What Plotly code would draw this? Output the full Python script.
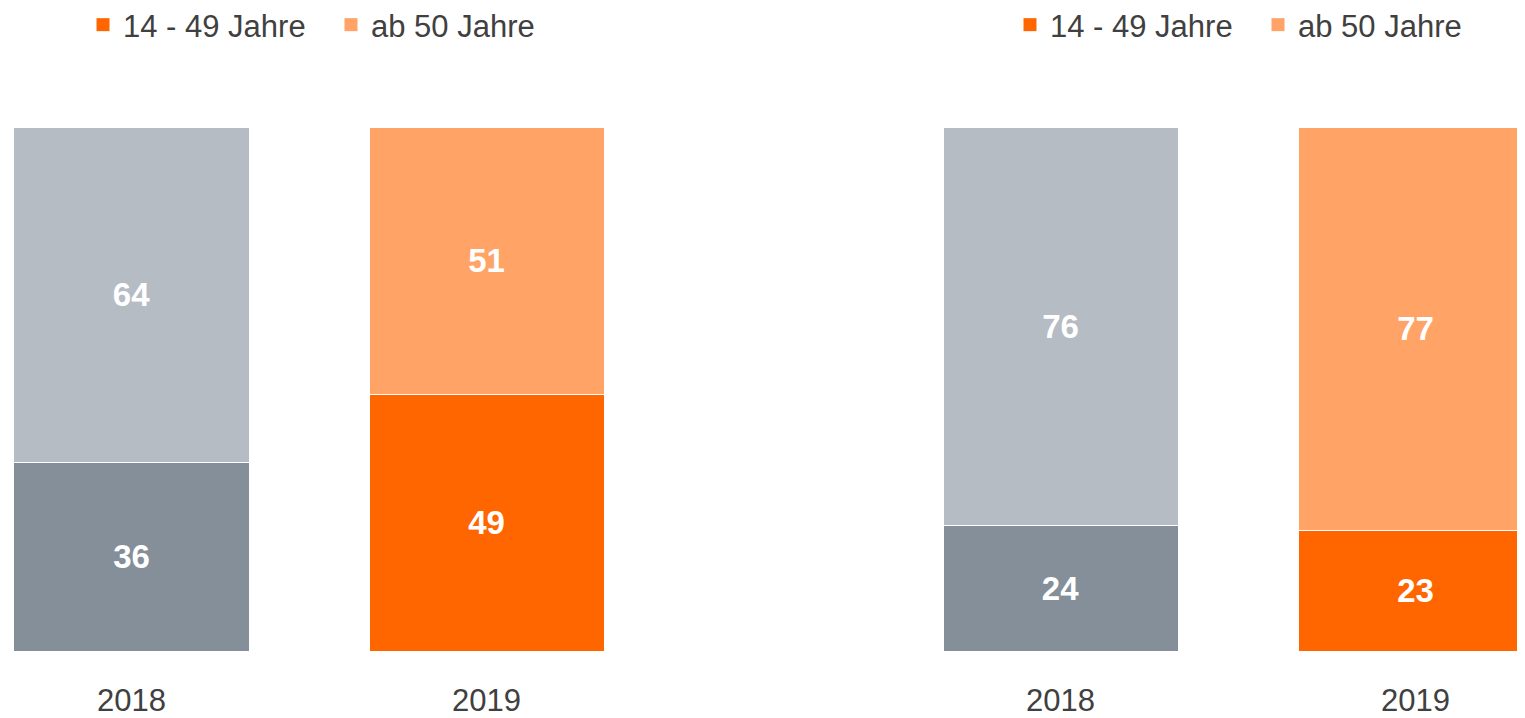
import plotly.graph_objects as go

years = ["2018", "2019"]
left_young = [36, 49]
left_old = [64, 51]
right_young = [24, 23]
right_old = [76, 77]
legend_labels = ["14 - 49 Jahre", "ab 50 Jahre"]

young_colors = ["#848f99", "#ff6600"]
old_colors = ["#b5bcc4", "#ffa366"]
legend_colors = ["#ff6600", "#ffa366"]

FONT = "Liberation Sans, Arial, sans-serif"
TXT = "#404040"
# page body has an 8px margin; figure is sized to fit the viewport
W = 1517
H = 710
T = 119
B = 67
PH = H - T - B
bar_w = 0.662

fig = go.Figure()

def add_panel(young, old, xa, ya):
    for vals, cols in ((young, young_colors), (old, old_colors)):
        fig.add_trace(go.Bar(
            x=years, y=vals, xaxis=xa, yaxis=ya, width=bar_w,
            marker=dict(color=cols, line=dict(color="white", width=1)),
            text=[str(v) for v in vals], textposition="inside",
            insidetextanchor="middle", textangle=0, constraintext="none",
            textfont=dict(family=FONT, size=33, color="white", weight="bold"),
            showlegend=False, hoverinfo="skip",
        ))

add_panel(left_young, left_old, "x", "y")
add_panel(right_young, right_old, "x2", "y2")

for lg in ("legend", "legend2"):
    for name, col in zip(legend_labels, legend_colors):
        fig.add_trace(go.Scatter(
            x=[None], y=[None], mode="markers", name=name, legend=lg,
            marker=dict(symbol="square", size=13, color=col),
            xaxis="x" if lg == "legend" else "x2",
            yaxis="y" if lg == "legend" else "y2",
        ))

pitch = 355.0
c1 = 123.5
c2 = 1052.5
half = W / 2
r1 = -c1 / pitch
r2 = -(c2 - half) / pitch
span = half / pitch

axis_common = dict(
    type="category", showgrid=False, zeroline=False, showline=False,
    ticks="outside", ticklen=22, tickcolor="rgba(0,0,0,0)",
    tickfont=dict(family=FONT, size=31, color=TXT), fixedrange=True,
)
yaxis_common = dict(range=[0, 100], visible=False, fixedrange=True)

leg_top = -10
legend_common = dict(
    orientation="h", xanchor="left", yanchor="top", yref="paper",
    y=1 + (T - leg_top) / PH,
    font=dict(family=FONT, size=31, color=TXT), bgcolor="rgba(0,0,0,0)",
    entrywidth=203, entrywidthmode="pixels", itemclick=False,
    itemdoubleclick=False, traceorder="normal",
)

fig.update_layout(
    width=W, height=H,
    margin=dict(l=0, r=0, t=T, b=B, autoexpand=False),
    plot_bgcolor="white", paper_bgcolor="white",
    barmode="stack",
    xaxis=dict(domain=[0, 0.5], range=[r1, r1 + span], anchor="y", **axis_common),
    xaxis2=dict(domain=[0.5, 1], range=[r2, r2 + span], anchor="y2", **axis_common),
    yaxis=dict(domain=[0, 1], anchor="x", **yaxis_common),
    yaxis2=dict(domain=[0, 1], anchor="x2", **yaxis_common),
    legend=dict(x=75 / W, **legend_common),
    legend2=dict(x=1002 / W, **legend_common),
    font=dict(family=FONT, color=TXT),
)

fig.write_html("out.html")
